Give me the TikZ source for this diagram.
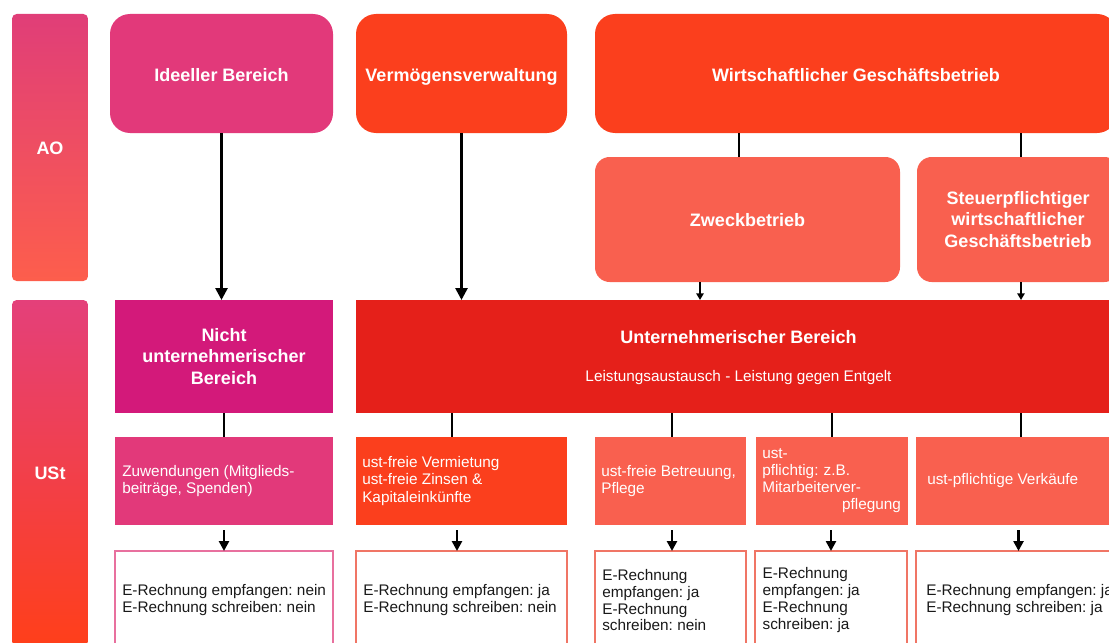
\documentclass[tikz,border=0pt]{standalone}
\usepackage{fontspec}
\setmainfont{Liberation Sans}
\usetikzlibrary{arrows.meta}
\frenchspacing
\definecolor{pinkA}{HTML}{E2397A}
\definecolor{magA}{HTML}{D3197A}
\definecolor{orgA}{HTML}{FB3F1D}
\definecolor{salA}{HTML}{F9604F}
\definecolor{redA}{HTML}{E5201A}
\definecolor{pinkLine}{HTML}{E8709E}
\definecolor{salLine}{HTML}{F07565}
\definecolor{aoTop}{HTML}{E03E78}
\definecolor{aoBot}{HTML}{FD5E4C}
\definecolor{usTop}{HTML}{E4407A}
\definecolor{usBot}{HTML}{FF3F1A}
\begin{document}
\begin{tikzpicture}[x=0.75pt,y=-0.75pt,
  box/.style={inner sep=0pt, outer sep=0pt, fill=#1, draw=none},
  head/.style={text=white, align=center, font=\fontsize{13.5}{16.2}\selectfont\bfseries},
  title/.style={head, text height=9.8pt, text depth=2.9pt, inner sep=0pt, yshift=-1.5pt},
  body/.style={text=white, align=left, anchor=west, inner sep=0pt, font=\fontsize{11.5}{12.8}\selectfont},
  note/.style={text=black!90, align=left, anchor=west, inner sep=0pt, font=\fontsize{11.5}{12.6}\selectfont},
  outbox/.style={inner sep=0pt, outer sep=0pt, fill=white, draw=#1, line width=1.5pt},
  link/.style={line width=2pt, black},
  bigarrow/.style={line width=2pt, black, -{Triangle[length=9pt,width=9pt]}},
  smallarrow/.style={line width=1.5pt, black, -{Triangle[length=5pt,width=5.5pt]}},
  midarrow/.style={line width=2pt, black, -{Triangle[length=7.5pt,width=7.5pt]}, shorten <=3.75pt},
]
\clip (0,0) rectangle (1109,642);

% side bars
\node[inner sep=0pt, rounded corners=3.5pt, top color=aoTop, bottom color=aoBot,
  minimum width=76*0.75pt, minimum height=267*0.75pt] (ao) at (50,147.5) {};
\node[title] at (ao.center) {AO};
\node[inner sep=0pt, rounded corners=3.5pt, top color=usTop, bottom color=usBot,
  minimum width=76*0.75pt, minimum height=346*0.75pt] (ust) at (50,473) {};
\node[title] at (ust.center) {USt};

% AO level
\node[box=pinkA, rounded corners=15pt, minimum width=223*0.75pt, minimum height=119*0.75pt] (id) at (221.5,73.5) {};
\node[title] at ([yshift=-1.2pt]id.center) {Ideeller Bereich};
\node[box=orgA, rounded corners=15pt, minimum width=211*0.75pt, minimum height=119*0.75pt] (vv) at (461.5,73.5) {};
\node[title] at ([yshift=-1.2pt]vv.center) {Vermögensverwaltung};
\node[box=orgA, rounded corners=15pt, minimum width=522*0.75pt, minimum height=119*0.75pt] (wg) at (856,73.5) {};
\node[title] at ([yshift=-1.2pt]wg.center) {Wirtschaftlicher Geschäftsbetrieb};
\node[box=salA, rounded corners=11pt, minimum width=305*0.75pt, minimum height=125*0.75pt] (zb) at (747.5,219.5) {};
\node[title] at (zb.center) {Zweckbetrieb};
\node[box=salA, rounded corners=11pt, minimum width=202*0.75pt, minimum height=125*0.75pt, head] (sp) at (1018,219.5) {Steuerpflichtiger\\wirtschaftlicher\\Geschäftsbetrieb};

% USt level
\node[box=magA, minimum width=218*0.75pt, minimum height=113*0.75pt, head] (nu) at (224,356.5) {Nicht\\unternehmerischer\\Bereich};
\node[box=redA, minimum width=765*0.75pt, minimum height=113*0.75pt] (ub) at (738.5,356.5) {};
\node[title] (ubt) at ([yshift=14.6pt]ub.center) {Unternehmerischer Bereich};
\node[text=white, font=\fontsize{11.5}{13}\selectfont] (ubs) at ([yshift=-16pt]ub.center) {Leistungsaustausch - Leistung gegen Entgelt};

% activities
\node[box=pinkA, minimum width=218*0.75pt, minimum height=88*0.75pt] (ra) at (224,481) {};
\node[box=orgA, minimum width=211*0.75pt, minimum height=88*0.75pt] (rb) at (461.5,481) {};
\node[box=salA, minimum width=151*0.75pt, minimum height=88*0.75pt] (rc) at (670.5,481) {};
\node[box=salA, minimum width=152*0.75pt, minimum height=88*0.75pt] (rd) at (832,481) {};
\node[box=salA, minimum width=205*0.75pt, minimum height=88*0.75pt] (re) at (1018.5,481) {};
\node[body] at ([xshift=5.25pt]ra.west) {Zuwendungen (Mitglieds-\\beiträge, Spenden)};
\node[body] at ([xshift=4.5pt]rb.west) {ust-freie Vermietung\\ust-freie Zinsen \&\\Kapitaleinkünfte};
\node[body] at ([xshift=4.5pt]rc.west) {ust-freie Betreuung,\\Pflege};
\node[body, text width=104pt] at ([xshift=4.5pt]rd.west) {ust-\\pflichtig: z.B.\\Mitarbeiterver-\\\hspace*{\fill}pflegung};
\node[body] at ([xshift=8.25pt]re.west) {ust-pflichtige Verkäufe};

% e-invoice outcome
\node[outbox=pinkLine, minimum width=218*0.75pt, minimum height=101*0.75pt] (ea) at (224,601.5) {};
\node[outbox=salLine, minimum width=211*0.75pt, minimum height=101*0.75pt] (eb) at (461.5,601.5) {};
\node[outbox=salLine, minimum width=151*0.75pt, minimum height=101*0.75pt] (ec) at (670.5,601.5) {};
\node[outbox=salLine, minimum width=152*0.75pt, minimum height=101*0.75pt] (ed) at (831,601.5) {};
\node[outbox=salLine, minimum width=205*0.75pt, minimum height=101*0.75pt] (ee) at (1018.5,601.5) {};
\node[note] at ([xshift=5.25pt,yshift=1pt]ea.west) {E-Rechnung empfangen: nein\\E-Rechnung schreiben: nein};
\node[note] at ([xshift=5.25pt,yshift=1pt]eb.west) {E-Rechnung empfangen: ja\\E-Rechnung schreiben: nein};
\node[note] at ([xshift=5.25pt,yshift=1pt]ec.west) {E-Rechnung\\empfangen: ja\\E-Rechnung\\schreiben: nein};
\node[note] at ([xshift=5.5pt,yshift=1pt]ed.west) {E-Rechnung\\empfangen: ja\\E-Rechnung\\schreiben: ja};
\node[note] at ([xshift=7.5pt,yshift=1pt]ee.west) {E-Rechnung empfangen: ja\\E-Rechnung schreiben: ja};

% connector columns
\coordinate (xw) at (739,0);
\coordinate (xz) at (700,0);
\coordinate (xs) at (1021,0);
\coordinate (xv) at (452,0);
\coordinate (xe) at (457,0);
\coordinate (xc) at (672,0);

\draw[bigarrow] (id.south) -- (id.south |- nu.north);
\draw[bigarrow] (vv.south) -- (vv.south |- ub.north);
\draw[link] (wg.south -| xw) -- (zb.north -| xw);
\draw[link] (wg.south -| xs) -- (sp.north -| xs);
\draw[smallarrow] (zb.south -| xz) -- (ub.north -| xz);
\draw[smallarrow] (sp.south -| xs) -- (ub.north -| xs);

\draw[link] (nu.south) -- (ra.north);
\draw[link] (ub.south -| xv) -- (rb.north -| xv);
\draw[link] (ub.south -| xc) -- (rc.north -| xc);
\draw[link] (ub.south -| rd.north) -- (rd.north);
\draw[link] (ub.south -| xs) -- (re.north -| xs);

\draw[midarrow] (ra.south) -- (ea.north);
\draw[midarrow] (rb.south -| xe) -- (eb.north -| xe);
\draw[midarrow] (rc.south -| xc) -- (ec.north -| xc);
\draw[midarrow] (rd.south -| ed.north) -- (ed.north);
\draw[midarrow] (re.south -| ee.north) -- (ee.north);
\end{tikzpicture}
\end{document}
